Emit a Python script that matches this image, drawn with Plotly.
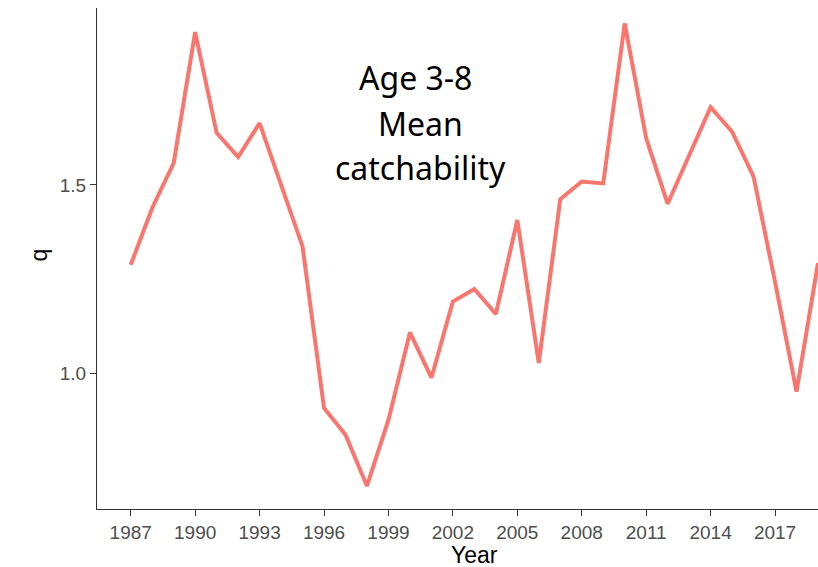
import plotly.graph_objects as go

years = list(range(1987, 2020))
q_values = [1.288, 1.439, 1.558, 1.905, 1.638, 1.574, 1.664, 1.500, 1.337,
            0.909, 0.838, 0.702, 0.877, 1.109, 0.989, 1.191, 1.224, 1.158,
            1.407, 1.028, 1.462, 1.509, 1.504, 1.928, 1.624, 1.450, 1.578,
            1.706, 1.641, 1.522, 1.243, 0.952, 1.293]
x_ticks = list(range(1987, 2020, 3))
y_ticks = [1.0, 1.5]
y_tick_labels = ["1.0", "1.5"]
note_lines = ["Age 3-8", "Mean", "catchability"]

fig = go.Figure()
fig.add_trace(go.Scatter(x=years, y=q_values, mode="lines",
                         line=dict(color="#F8766D", width=4),
                         showlegend=False))

axis_common = dict(showgrid=False, zeroline=False, showline=True,
                   linecolor="#333333", linewidth=1.2,
                   ticks="outside", ticklen=6, tickwidth=1.2, tickcolor="#333333",
                   tickfont=dict(family="Liberation Sans, Arial", size=19, color="#4d4d4d"))

fig.update_layout(
    width=818, height=567,
    margin=dict(l=97, r=0, t=8, b=58),
    paper_bgcolor="white", plot_bgcolor="white",
    xaxis=dict(range=[1985.43, 2019.0], tickvals=x_ticks, automargin=False, **axis_common),
    yaxis=dict(range=[0.641, 1.969], tickvals=y_ticks, ticktext=y_tick_labels,
               automargin=False, **axis_common),
)

fig.add_annotation(text="Year", xref="paper", yref="paper", x=0.524, y=-0.091,
                   xanchor="center", yanchor="middle", showarrow=False,
                   font=dict(family="Liberation Sans, Arial", size=23, color="black"))
fig.add_annotation(text="q", xref="paper", yref="paper", x=-0.081, y=0.507,
                   xanchor="center", yanchor="middle", showarrow=False, textangle=-90,
                   font=dict(family="Liberation Sans, Arial", size=23, color="black"))

note_x = [2000.27, 2000.5, 2000.5]
note_y = [1.7835, 1.6616, 1.545]
for t, xx, yy in zip(note_lines, note_x, note_y):
    fig.add_annotation(text=t, x=xx, y=yy, xanchor="center", yanchor="middle",
                       showarrow=False,
                       font=dict(family="Noto Sans", size=32, color="black"))

fig.write_html("out.html", config={"displayModeBar": False},
               post_script="document.body.style.margin='0';document.body.style.overflow='hidden';")
